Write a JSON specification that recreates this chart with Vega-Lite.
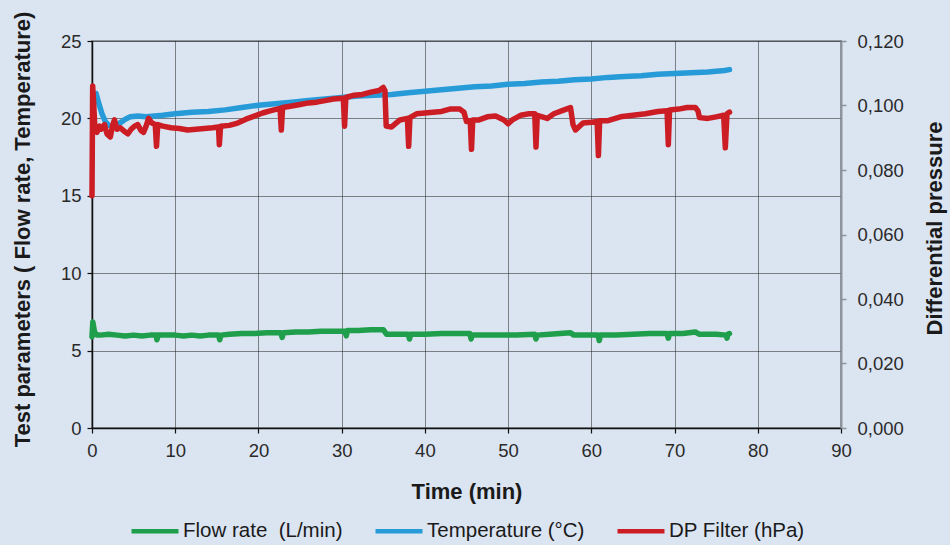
{
  "$schema": "https://vega.github.io/schema/vega-lite/v6.json",
  "width": 749,
  "height": 387,
  "autosize": {"type": "none"},
  "padding": {"left": 92, "top": 41, "right": 109, "bottom": 117},
  "background": "#dbe4f1",
  "config": {
    "font": "Liberation Sans",
    "view": {"stroke": "#8e949c", "strokeWidth": 2, "fill": "#dbe4f1"},
    "axis": {
      "labelFont": "Liberation Sans",
      "labelFontSize": 18.5,
      "labelColor": "#2a2a2a",
      "titleFont": "Liberation Sans",
      "titleFontSize": 22,
      "titleFontWeight": "bold",
      "titleColor": "#1a1a1a",
      "tickSize": 5,
      "gridColor": "#1a1a1a",
      "gridDash": [1, 1],
      "gridWidth": 1,
      "gridOpacity": 1
    }
  },
  "datasets": {
    "flow": [
      {"t": 0.0, "v": 5.9}, {"t": 0.1, "v": 6.85}, {"t": 0.3, "v": 6.2}, {"t": 0.6, "v": 6.0},
      {"t": 1, "v": 6.0}, {"t": 2, "v": 6.05}, {"t": 3, "v": 6.0}, {"t": 4, "v": 5.95},
      {"t": 5, "v": 6.0}, {"t": 6, "v": 5.95}, {"t": 7, "v": 6.0}, {"t": 7.7, "v": 6.0},
      {"t": 7.8, "v": 5.7}, {"t": 7.95, "v": 6.0}, {"t": 9, "v": 6.0}, {"t": 10, "v": 6.0},
      {"t": 11, "v": 5.95}, {"t": 12, "v": 6.0}, {"t": 13, "v": 5.95}, {"t": 14, "v": 6.0},
      {"t": 15.2, "v": 6.0}, {"t": 15.35, "v": 5.7}, {"t": 15.5, "v": 6.0}, {"t": 16.5, "v": 6.05},
      {"t": 18, "v": 6.1}, {"t": 19.5, "v": 6.1}, {"t": 21, "v": 6.15}, {"t": 22.7, "v": 6.15},
      {"t": 22.85, "v": 5.85}, {"t": 23, "v": 6.15}, {"t": 24.5, "v": 6.2}, {"t": 26, "v": 6.2},
      {"t": 27.5, "v": 6.25}, {"t": 29, "v": 6.25}, {"t": 30.4, "v": 6.25}, {"t": 30.55, "v": 5.95},
      {"t": 30.7, "v": 6.3}, {"t": 32, "v": 6.3}, {"t": 33.5, "v": 6.35}, {"t": 35, "v": 6.35},
      {"t": 35.4, "v": 6.05}, {"t": 36.5, "v": 6.05}, {"t": 38.0, "v": 6.05}, {"t": 38.15, "v": 5.75},
      {"t": 38.3, "v": 6.05}, {"t": 40, "v": 6.05}, {"t": 42, "v": 6.1}, {"t": 44, "v": 6.1},
      {"t": 45.4, "v": 6.1}, {"t": 45.55, "v": 5.75}, {"t": 45.7, "v": 6.0}, {"t": 47, "v": 6.0},
      {"t": 49, "v": 6.0}, {"t": 51, "v": 6.0}, {"t": 53.2, "v": 6.05}, {"t": 53.35, "v": 5.75},
      {"t": 53.5, "v": 6.0}, {"t": 55, "v": 6.05}, {"t": 57.5, "v": 6.15}, {"t": 57.9, "v": 6.0},
      {"t": 59, "v": 6.0}, {"t": 60.8, "v": 6.0}, {"t": 60.95, "v": 5.65}, {"t": 61.1, "v": 6.0},
      {"t": 63, "v": 6.0}, {"t": 65, "v": 6.05}, {"t": 67, "v": 6.1}, {"t": 69.1, "v": 6.1},
      {"t": 69.25, "v": 5.8}, {"t": 69.4, "v": 6.1}, {"t": 71, "v": 6.1}, {"t": 72.5, "v": 6.2},
      {"t": 73, "v": 6.05}, {"t": 75, "v": 6.05}, {"t": 76.2, "v": 6.0}, {"t": 76.3, "v": 5.8},
      {"t": 76.4, "v": 6.05}, {"t": 76.6, "v": 6.1}
    ],
    "temp": [
      {"t": 0.5, "v": 21.6}, {"t": 0.8, "v": 21.0}, {"t": 1.2, "v": 20.3}, {"t": 1.6, "v": 19.8},
      {"t": 2.0, "v": 19.55}, {"t": 2.4, "v": 19.5}, {"t": 3.0, "v": 19.6}, {"t": 3.5, "v": 19.75},
      {"t": 4.0, "v": 19.95}, {"t": 4.6, "v": 20.1}, {"t": 5.5, "v": 20.15}, {"t": 6.5, "v": 20.1},
      {"t": 7.5, "v": 20.15}, {"t": 8.5, "v": 20.2}, {"t": 10, "v": 20.3}, {"t": 12, "v": 20.4},
      {"t": 14, "v": 20.45}, {"t": 16, "v": 20.55}, {"t": 18, "v": 20.7}, {"t": 20, "v": 20.85},
      {"t": 22, "v": 20.95}, {"t": 24, "v": 21.05}, {"t": 26, "v": 21.15}, {"t": 28, "v": 21.25},
      {"t": 30, "v": 21.35}, {"t": 32, "v": 21.45}, {"t": 34, "v": 21.5}, {"t": 36, "v": 21.55},
      {"t": 38, "v": 21.65}, {"t": 40, "v": 21.75}, {"t": 42, "v": 21.85}, {"t": 44, "v": 21.95},
      {"t": 46, "v": 22.05}, {"t": 48, "v": 22.1}, {"t": 50, "v": 22.2}, {"t": 52, "v": 22.25},
      {"t": 54, "v": 22.35}, {"t": 56, "v": 22.4}, {"t": 58, "v": 22.5}, {"t": 60, "v": 22.55},
      {"t": 62, "v": 22.65}, {"t": 64, "v": 22.7}, {"t": 66, "v": 22.75}, {"t": 68, "v": 22.85},
      {"t": 70, "v": 22.9}, {"t": 72, "v": 22.95}, {"t": 74, "v": 23.0}, {"t": 76, "v": 23.1},
      {"t": 76.6, "v": 23.15}
    ],
    "dp": [
      {"t": 0.0, "v": 15.0}, {"t": 0.08, "v": 22.1}, {"t": 0.2, "v": 21.0}, {"t": 0.35, "v": 19.3},
      {"t": 0.6, "v": 19.1}, {"t": 0.9, "v": 19.5}, {"t": 1.1, "v": 19.3}, {"t": 1.5, "v": 19.6},
      {"t": 1.8, "v": 19.0}, {"t": 2.2, "v": 18.8}, {"t": 2.5, "v": 19.6}, {"t": 2.7, "v": 19.9},
      {"t": 3.0, "v": 19.3}, {"t": 3.4, "v": 19.4}, {"t": 3.8, "v": 19.2}, {"t": 4.3, "v": 19.0},
      {"t": 4.7, "v": 19.3}, {"t": 5.1, "v": 19.5}, {"t": 5.5, "v": 19.6}, {"t": 5.9, "v": 19.2},
      {"t": 6.2, "v": 19.1}, {"t": 6.5, "v": 19.5}, {"t": 6.8, "v": 20.0}, {"t": 7.2, "v": 19.7},
      {"t": 7.6, "v": 19.6}, {"t": 7.75, "v": 18.2}, {"t": 7.9, "v": 19.6}, {"t": 8.5, "v": 19.5},
      {"t": 9.5, "v": 19.4}, {"t": 10.5, "v": 19.35}, {"t": 11.5, "v": 19.25}, {"t": 12.5, "v": 19.3},
      {"t": 13.5, "v": 19.35}, {"t": 14.5, "v": 19.4}, {"t": 15.2, "v": 19.45}, {"t": 15.3, "v": 18.3},
      {"t": 15.45, "v": 19.5}, {"t": 16.5, "v": 19.55}, {"t": 17.5, "v": 19.7}, {"t": 18.5, "v": 19.95},
      {"t": 19.5, "v": 20.15}, {"t": 20.5, "v": 20.35}, {"t": 21.5, "v": 20.5}, {"t": 22.6, "v": 20.65},
      {"t": 22.75, "v": 19.25}, {"t": 22.9, "v": 20.7}, {"t": 24, "v": 20.8}, {"t": 25, "v": 20.9},
      {"t": 26, "v": 21.0}, {"t": 27, "v": 21.05}, {"t": 28, "v": 21.15}, {"t": 29, "v": 21.25},
      {"t": 30.2, "v": 21.3}, {"t": 30.35, "v": 19.5}, {"t": 30.5, "v": 21.35}, {"t": 31.5, "v": 21.5},
      {"t": 32.5, "v": 21.55}, {"t": 33.5, "v": 21.7}, {"t": 34.5, "v": 21.8}, {"t": 35.0, "v": 22.0},
      {"t": 35.2, "v": 21.8}, {"t": 35.35, "v": 19.5}, {"t": 36, "v": 19.45}, {"t": 37, "v": 19.9},
      {"t": 37.9, "v": 20.0}, {"t": 38.05, "v": 18.2}, {"t": 38.2, "v": 20.05}, {"t": 39, "v": 20.3},
      {"t": 40, "v": 20.35}, {"t": 41, "v": 20.4}, {"t": 42, "v": 20.45}, {"t": 43, "v": 20.6},
      {"t": 44.2, "v": 20.6}, {"t": 44.7, "v": 20.4}, {"t": 45.0, "v": 19.8}, {"t": 45.45, "v": 19.85},
      {"t": 45.6, "v": 18.0}, {"t": 45.75, "v": 19.9}, {"t": 46.5, "v": 19.9}, {"t": 47.5, "v": 20.1},
      {"t": 48.5, "v": 20.15}, {"t": 49.5, "v": 19.9}, {"t": 50, "v": 19.65}, {"t": 50.5, "v": 19.9},
      {"t": 51.5, "v": 20.2}, {"t": 52.5, "v": 20.3}, {"t": 53.2, "v": 20.3}, {"t": 53.35, "v": 18.15},
      {"t": 53.5, "v": 20.2}, {"t": 54.7, "v": 20.0}, {"t": 55.5, "v": 20.3}, {"t": 56.5, "v": 20.5},
      {"t": 57.5, "v": 20.7}, {"t": 57.8, "v": 19.6}, {"t": 58.1, "v": 19.25}, {"t": 59, "v": 19.7},
      {"t": 60, "v": 19.75}, {"t": 60.7, "v": 19.8}, {"t": 60.85, "v": 17.6}, {"t": 61.0, "v": 19.85},
      {"t": 62, "v": 19.85}, {"t": 63.5, "v": 20.1}, {"t": 65, "v": 20.2}, {"t": 66.5, "v": 20.3},
      {"t": 68, "v": 20.45}, {"t": 69.1, "v": 20.5}, {"t": 69.25, "v": 18.3}, {"t": 69.4, "v": 20.55},
      {"t": 70.5, "v": 20.6}, {"t": 71.5, "v": 20.7}, {"t": 72.5, "v": 20.7}, {"t": 72.8, "v": 20.5},
      {"t": 73, "v": 20.05}, {"t": 74, "v": 20.0}, {"t": 75, "v": 20.1}, {"t": 75.9, "v": 20.2},
      {"t": 76.1, "v": 18.1}, {"t": 76.3, "v": 20.3}, {"t": 76.6, "v": 20.4}
    ],
    "right": [{"p": 0}, {"p": 0.12}]
  },
  "layer": [
    {
      "layer": [
        {
          "data": {"name": "flow"},
          "mark": {"type": "line", "strokeWidth": 5.5, "strokeJoin": "round", "strokeCap": "round"},
          "encoding": {
            "x": {
              "field": "t", "type": "quantitative",
              "scale": {"domain": [0, 90], "nice": false},
              "axis": {
                "title": "Time (min)",
                "values": [0, 10, 20, 30, 40, 50, 60, 70, 80, 90],
                "grid": true,
                "domainColor": "#111", "domainWidth": 1.5, "tickColor": "#111", "tickWidth": 1.2,
                "labelFlush": false, "labelOverlap": false,
                "labelBaseline": "alphabetic", "labelPadding": 23,
                "titleX": 374.5, "titleY": 70, "titleBaseline": "alphabetic", "titleAlign": "center"
              }
            },
            "y": {
              "field": "v", "type": "quantitative",
              "scale": {"domain": [0, 25], "nice": false},
              "axis": {
                "title": "Test parameters ( Flow rate, Temperature)",
                "values": [0, 5, 10, 15, 20, 25],
                "grid": true,
                "domainColor": "#111", "domainWidth": 1.5, "tickColor": "#111", "tickWidth": 1.2,
                "labelPadding": 6,
                "titleAngle": 270, "titleX": -63, "titleY": 188, "titleBaseline": "alphabetic", "titleAlign": "center"
              }
            },
            "color": {
              "datum": "Flow rate  (L/min)",
              "type": "nominal",
              "scale": {
                "domain": ["Flow rate  (L/min)", "Temperature (°C)", "DP Filter (hPa)"],
                "range": ["#1f9e4b", "#279bd8", "#cc1d25"]
              },
              "legend": {
                "title": null,
                "orient": "none",
                "direction": "horizontal",
                "legendX": 37,
                "legendY": 464,
                "symbolType": "stroke",
                "symbolSize": 2209,
                "symbolStrokeWidth": 4.5,
                "labelExpr": "replace(datum.label, '  ', ' \u00a0')",
                "labelFont": "Liberation Sans",
                "labelFontSize": 20.5,
                "labelColor": "#1a1a1a",
                "labelOffset": 2,
                "labelLimit": 400,
                "columnPadding": 23
              }
            }
          }
        },
        {
          "data": {"name": "temp"},
          "mark": {"type": "line", "strokeWidth": 5.5, "strokeJoin": "round", "strokeCap": "round"},
          "encoding": {
            "x": {"field": "t", "type": "quantitative"},
            "y": {"field": "v", "type": "quantitative"},
            "color": {"datum": "Temperature (°C)", "type": "nominal"}
          }
        },
        {
          "data": {"name": "dp"},
          "mark": {"type": "line", "strokeWidth": 5.5, "strokeJoin": "round", "strokeCap": "round"},
          "encoding": {
            "x": {"field": "t", "type": "quantitative"},
            "y": {"field": "v", "type": "quantitative"},
            "color": {"datum": "DP Filter (hPa)", "type": "nominal"}
          }
        }
      ]
    },
    {
      "data": {"name": "right"},
      "mark": {"type": "point", "opacity": 0},
      "encoding": {
        "y": {
          "field": "p", "type": "quantitative",
          "scale": {"domain": [0, 0.12], "nice": false},
          "axis": {
            "orient": "right",
            "title": "Differential pressure",
            "values": [0, 0.02, 0.04, 0.06, 0.08, 0.1, 0.12],
            "labelExpr": "replace(format(datum.value, '.3f'), '.', ',')",
            "grid": false,
            "domainColor": "#8e949c", "domainWidth": 2, "tickColor": "#8e949c", "tickWidth": 1.5,
            "labelPadding": 11,
            "titleAngle": 270, "titleX": 100, "titleY": 187, "titleBaseline": "alphabetic", "titleAlign": "center"
          }
        }
      }
    }
  ],
  "resolve": {"scale": {"y": "independent"}}
}
